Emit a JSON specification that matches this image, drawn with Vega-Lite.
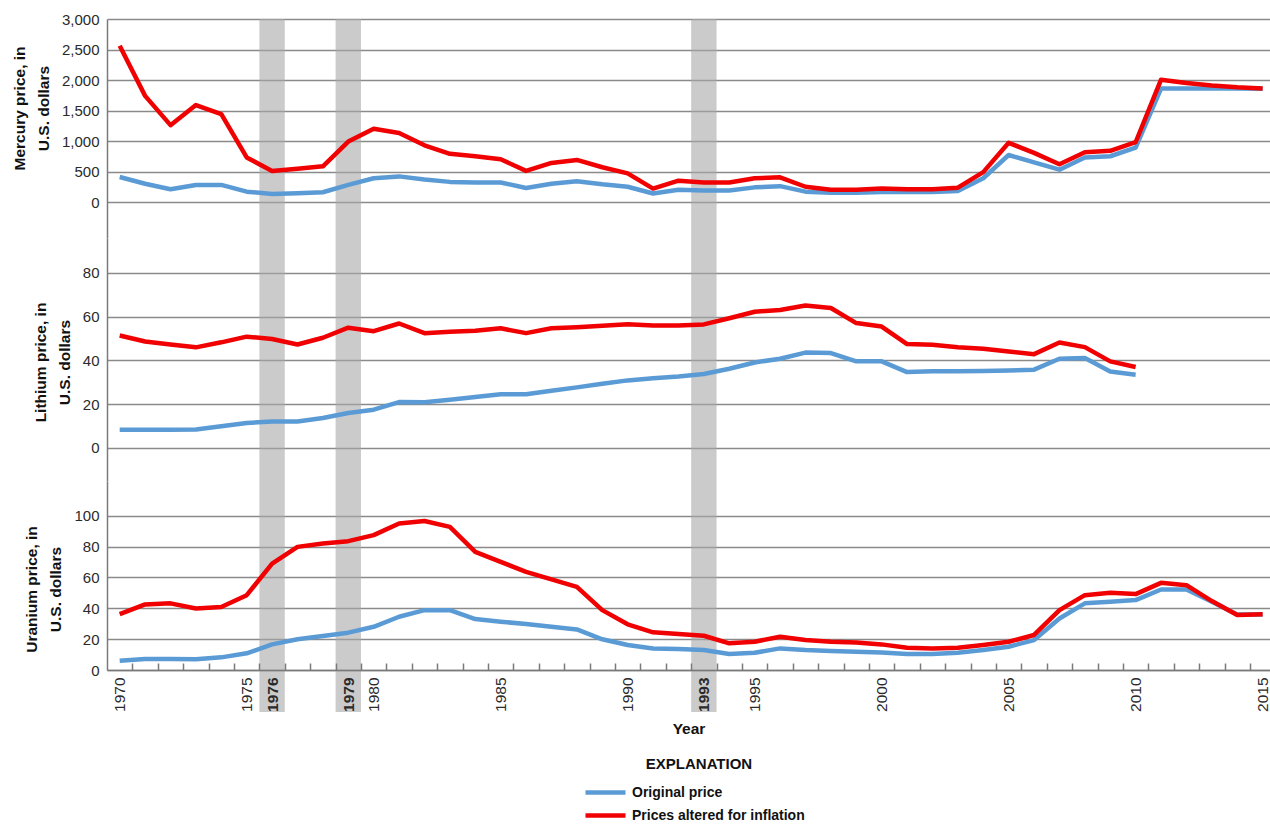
{
  "$schema": "https://vega.github.io/schema/vega-lite/v6.json",
  "padding": {"left": 12, "top": 12, "right": 0, "bottom": 0},
  "spacing": 0,
  "resolve": {"legend": {"color": "independent"}},
  "config": {
    "view": {"stroke": null},
    "font": "Liberation Sans, Arial, sans-serif",
    "axisY": {
      "ticks": false, "domain": true, "domainColor": "#7a7a7a", "domainWidth": 1.5,
      "grid": true, "gridColor": "#8a8a8a", "gridWidth": 1.5,
      "labelFontSize": 15, "labelPadding": 8, "labelColor": "#2a2a2a", "labelOverlap": false,
      "titleFontSize": 15.5, "titleFontWeight": "bold", "titleColor": "#111111",
      "titlePadding": 10, "titleLineHeight": 24
    }
  },
  "datasets": {
    "bands": [
      {"year": 1976, "start": 1975.5, "end": 1976.5},
      {"year": 1979, "start": 1978.5, "end": 1979.5},
      {"year": 1993, "start": 1992.5, "end": 1993.5}
    ],
    "mercury": [
      {"year": 1970, "Original price": 410, "Prices altered for inflation": 2560},
      {"year": 1971, "Original price": 300, "Prices altered for inflation": 1740},
      {"year": 1972, "Original price": 210, "Prices altered for inflation": 1260},
      {"year": 1973, "Original price": 280, "Prices altered for inflation": 1590},
      {"year": 1974, "Original price": 280, "Prices altered for inflation": 1440},
      {"year": 1975, "Original price": 170, "Prices altered for inflation": 730},
      {"year": 1976, "Original price": 130, "Prices altered for inflation": 510},
      {"year": 1977, "Original price": 145, "Prices altered for inflation": 545},
      {"year": 1978, "Original price": 160, "Prices altered for inflation": 585},
      {"year": 1979, "Original price": 280, "Prices altered for inflation": 990},
      {"year": 1980, "Original price": 390, "Prices altered for inflation": 1200},
      {"year": 1981, "Original price": 420, "Prices altered for inflation": 1130},
      {"year": 1982, "Original price": 370, "Prices altered for inflation": 930},
      {"year": 1983, "Original price": 330, "Prices altered for inflation": 790},
      {"year": 1984, "Original price": 320, "Prices altered for inflation": 750},
      {"year": 1985, "Original price": 320, "Prices altered for inflation": 700},
      {"year": 1986, "Original price": 230, "Prices altered for inflation": 510},
      {"year": 1987, "Original price": 300, "Prices altered for inflation": 640},
      {"year": 1988, "Original price": 340, "Prices altered for inflation": 690},
      {"year": 1989, "Original price": 290, "Prices altered for inflation": 570},
      {"year": 1990, "Original price": 250, "Prices altered for inflation": 470},
      {"year": 1991, "Original price": 140, "Prices altered for inflation": 220},
      {"year": 1992, "Original price": 200, "Prices altered for inflation": 350},
      {"year": 1993, "Original price": 190, "Prices altered for inflation": 320},
      {"year": 1994, "Original price": 190, "Prices altered for inflation": 320},
      {"year": 1995, "Original price": 240, "Prices altered for inflation": 390},
      {"year": 1996, "Original price": 260, "Prices altered for inflation": 405},
      {"year": 1997, "Original price": 170, "Prices altered for inflation": 250},
      {"year": 1998, "Original price": 150, "Prices altered for inflation": 200},
      {"year": 1999, "Original price": 150, "Prices altered for inflation": 200},
      {"year": 2000, "Original price": 165, "Prices altered for inflation": 220},
      {"year": 2001, "Original price": 165, "Prices altered for inflation": 210},
      {"year": 2002, "Original price": 165, "Prices altered for inflation": 210},
      {"year": 2003, "Original price": 180, "Prices altered for inflation": 235},
      {"year": 2004, "Original price": 390, "Prices altered for inflation": 490},
      {"year": 2005, "Original price": 770, "Prices altered for inflation": 970},
      {"year": 2006, "Original price": 650, "Prices altered for inflation": 805},
      {"year": 2007, "Original price": 530, "Prices altered for inflation": 620},
      {"year": 2008, "Original price": 730, "Prices altered for inflation": 815},
      {"year": 2009, "Original price": 750, "Prices altered for inflation": 840},
      {"year": 2010, "Original price": 890, "Prices altered for inflation": 980},
      {"year": 2011, "Original price": 1860, "Prices altered for inflation": 2005},
      {"year": 2012, "Original price": 1860, "Prices altered for inflation": 1950},
      {"year": 2013, "Original price": 1860, "Prices altered for inflation": 1910},
      {"year": 2014, "Original price": 1860, "Prices altered for inflation": 1880},
      {"year": 2015, "Original price": 1855, "Prices altered for inflation": 1860}
    ],
    "lithium": [
      {"year": 1970, "Original price": 8.2, "Prices altered for inflation": 51.3},
      {"year": 1971, "Original price": 8.2, "Prices altered for inflation": 48.6},
      {"year": 1972, "Original price": 8.2, "Prices altered for inflation": 47.2},
      {"year": 1973, "Original price": 8.3, "Prices altered for inflation": 45.9},
      {"year": 1974, "Original price": 9.8, "Prices altered for inflation": 48.2},
      {"year": 1975, "Original price": 11.3, "Prices altered for inflation": 50.8},
      {"year": 1976, "Original price": 12, "Prices altered for inflation": 49.7},
      {"year": 1977, "Original price": 12, "Prices altered for inflation": 47.2},
      {"year": 1978, "Original price": 13.6, "Prices altered for inflation": 50.3},
      {"year": 1979, "Original price": 15.9, "Prices altered for inflation": 54.9},
      {"year": 1980, "Original price": 17.4, "Prices altered for inflation": 53.3},
      {"year": 1981, "Original price": 20.9, "Prices altered for inflation": 56.8},
      {"year": 1982, "Original price": 20.8, "Prices altered for inflation": 52.4},
      {"year": 1983, "Original price": 21.9, "Prices altered for inflation": 53},
      {"year": 1984, "Original price": 23.2, "Prices altered for inflation": 53.5},
      {"year": 1985, "Original price": 24.5, "Prices altered for inflation": 54.6},
      {"year": 1986, "Original price": 24.5, "Prices altered for inflation": 52.4},
      {"year": 1987, "Original price": 26.1, "Prices altered for inflation": 54.6},
      {"year": 1988, "Original price": 27.6, "Prices altered for inflation": 55.1},
      {"year": 1989, "Original price": 29.3, "Prices altered for inflation": 55.8},
      {"year": 1990, "Original price": 30.8, "Prices altered for inflation": 56.5},
      {"year": 1991, "Original price": 31.8, "Prices altered for inflation": 55.9},
      {"year": 1992, "Original price": 32.6, "Prices altered for inflation": 55.9},
      {"year": 1993, "Original price": 33.7, "Prices altered for inflation": 56.4},
      {"year": 1994, "Original price": 36.1, "Prices altered for inflation": 59.2},
      {"year": 1995, "Original price": 39, "Prices altered for inflation": 62.2},
      {"year": 1996, "Original price": 40.7, "Prices altered for inflation": 63},
      {"year": 1997, "Original price": 43.5, "Prices altered for inflation": 65},
      {"year": 1998, "Original price": 43.3, "Prices altered for inflation": 63.9},
      {"year": 1999, "Original price": 39.5, "Prices altered for inflation": 57},
      {"year": 2000, "Original price": 39.5, "Prices altered for inflation": 55.4},
      {"year": 2001, "Original price": 34.6, "Prices altered for inflation": 47.4},
      {"year": 2002, "Original price": 35, "Prices altered for inflation": 47.1},
      {"year": 2003, "Original price": 35, "Prices altered for inflation": 45.9},
      {"year": 2004, "Original price": 35.1, "Prices altered for inflation": 45.3},
      {"year": 2005, "Original price": 35.3, "Prices altered for inflation": 44},
      {"year": 2006, "Original price": 35.7, "Prices altered for inflation": 42.8},
      {"year": 2007, "Original price": 40.7, "Prices altered for inflation": 48.1},
      {"year": 2008, "Original price": 41, "Prices altered for inflation": 46},
      {"year": 2009, "Original price": 34.9, "Prices altered for inflation": 39.5},
      {"year": 2010, "Original price": 33.4, "Prices altered for inflation": 36.9}
    ],
    "uranium": [
      {"year": 1970, "Original price": 6, "Prices altered for inflation": 36.2},
      {"year": 1971, "Original price": 7.1, "Prices altered for inflation": 42.5},
      {"year": 1972, "Original price": 7.1, "Prices altered for inflation": 43.2},
      {"year": 1973, "Original price": 7, "Prices altered for inflation": 39.9},
      {"year": 1974, "Original price": 8.2, "Prices altered for inflation": 40.8},
      {"year": 1975, "Original price": 10.8, "Prices altered for inflation": 48.5},
      {"year": 1976, "Original price": 16.6, "Prices altered for inflation": 69},
      {"year": 1977, "Original price": 19.9, "Prices altered for inflation": 79.8},
      {"year": 1978, "Original price": 22, "Prices altered for inflation": 82},
      {"year": 1979, "Original price": 24.2, "Prices altered for inflation": 83.5},
      {"year": 1980, "Original price": 28, "Prices altered for inflation": 87.4},
      {"year": 1981, "Original price": 34.5, "Prices altered for inflation": 95},
      {"year": 1982, "Original price": 38.8, "Prices altered for inflation": 96.6},
      {"year": 1983, "Original price": 38.8, "Prices altered for inflation": 92.8},
      {"year": 1984, "Original price": 33, "Prices altered for inflation": 76.6},
      {"year": 1985, "Original price": 31.3, "Prices altered for inflation": 70.1},
      {"year": 1986, "Original price": 29.8, "Prices altered for inflation": 63.6},
      {"year": 1987, "Original price": 28, "Prices altered for inflation": 58.7},
      {"year": 1988, "Original price": 26.3, "Prices altered for inflation": 53.9},
      {"year": 1989, "Original price": 19.9, "Prices altered for inflation": 38.8},
      {"year": 1990, "Original price": 16.2, "Prices altered for inflation": 29.6},
      {"year": 1991, "Original price": 14, "Prices altered for inflation": 24.4},
      {"year": 1992, "Original price": 13.6, "Prices altered for inflation": 23.3},
      {"year": 1993, "Original price": 12.9, "Prices altered for inflation": 22.2},
      {"year": 1994, "Original price": 10.4, "Prices altered for inflation": 17.3},
      {"year": 1995, "Original price": 11.2, "Prices altered for inflation": 18.3},
      {"year": 1996, "Original price": 14, "Prices altered for inflation": 21.6},
      {"year": 1997, "Original price": 12.9, "Prices altered for inflation": 19.4},
      {"year": 1998, "Original price": 12.3, "Prices altered for inflation": 18.3},
      {"year": 1999, "Original price": 11.9, "Prices altered for inflation": 17.9},
      {"year": 2000, "Original price": 11.4, "Prices altered for inflation": 16.6},
      {"year": 2001, "Original price": 10.4, "Prices altered for inflation": 14.4},
      {"year": 2002, "Original price": 10.4, "Prices altered for inflation": 14},
      {"year": 2003, "Original price": 11.2, "Prices altered for inflation": 14.4},
      {"year": 2004, "Original price": 12.9, "Prices altered for inflation": 16.2},
      {"year": 2005, "Original price": 15.1, "Prices altered for inflation": 18.3},
      {"year": 2006, "Original price": 19.4, "Prices altered for inflation": 22.7},
      {"year": 2007, "Original price": 33.4, "Prices altered for inflation": 38.8},
      {"year": 2008, "Original price": 43.2, "Prices altered for inflation": 48.5},
      {"year": 2009, "Original price": 44.2, "Prices altered for inflation": 50},
      {"year": 2010, "Original price": 45.3, "Prices altered for inflation": 49.2},
      {"year": 2011, "Original price": 52.2, "Prices altered for inflation": 56.5},
      {"year": 2012, "Original price": 52.2, "Prices altered for inflation": 55},
      {"year": 2013, "Original price": 44.2, "Prices altered for inflation": 44.7},
      {"year": 2014, "Original price": 36, "Prices altered for inflation": 35.6},
      {"year": 2015, "Original price": 36, "Prices altered for inflation": 36.2}
    ]
  },
  "vconcat": [
    {
      "width": 1163,
      "height": 219,
      "layer": [
        {
          "data": {"name": "bands"},
          "mark": {"type": "rect", "fill": "#a8a8a8", "opacity": 0.6},
          "encoding": {
            "x": {"field": "start", "type": "quantitative", "scale": {"domain": [1969.5, 2015.29], "nice": false, "zero": false}, "axis": null},
            "x2": {"field": "end"}
          }
        },
        {
          "data": {"name": "mercury"},
          "transform": [{"fold": ["Original price", "Prices altered for inflation"], "as": ["series", "price"]}],
          "mark": {"type": "line", "strokeWidth": 4.5, "strokeJoin": "round"},
          "encoding": {
            "x": {"field": "year", "type": "quantitative", "scale": {"domain": [1969.5, 2015.29], "nice": false, "zero": false}, "axis": null},
            "y": {"field": "price", "type": "quantitative", "scale": {"domain": [-590, 3000], "nice": false, "zero": false},
                  "axis": {"values": [0, 500, 1000, 1500, 2000, 2500, 3000], "format": ",d", "labelOverlap": false, "title": ["Mercury price, in", "U.S. dollars"], "titleY": 89}},
            "color": {"field": "series", "type": "nominal", "scale": {"domain": ["Original price", "Prices altered for inflation"], "range": ["#5b9bd5", "#f00000"]}, "legend": null}
          }
        }
      ]
    },
    {
      "width": 1163,
      "height": 243,
      "layer": [
        {
          "data": {"name": "bands"},
          "mark": {"type": "rect", "fill": "#a8a8a8", "opacity": 0.6},
          "encoding": {
            "x": {"field": "start", "type": "quantitative", "scale": {"domain": [1969.5, 2015.29], "nice": false, "zero": false}, "axis": null},
            "x2": {"field": "end"}
          }
        },
        {
          "data": {"name": "lithium"},
          "transform": [{"fold": ["Original price", "Prices altered for inflation"], "as": ["series", "price"]}],
          "mark": {"type": "line", "strokeWidth": 4.5, "strokeJoin": "round"},
          "encoding": {
            "x": {"field": "year", "type": "quantitative", "scale": {"domain": [1969.5, 2015.29], "nice": false, "zero": false}, "axis": null},
            "y": {"field": "price", "type": "quantitative", "scale": {"domain": [-15.2, 95.9], "nice": false, "zero": false},
                  "axis": {"values": [0, 20, 40, 60, 80], "labelOverlap": false, "title": ["Lithium price, in", "U.S. dollars"], "titleY": 124}},
            "color": {"field": "series", "type": "nominal", "scale": {"domain": ["Original price", "Prices altered for inflation"], "range": ["#5b9bd5", "#f00000"]}, "legend": null}
          }
        }
      ]
    },
    {
      "width": 1163,
      "height": 189,
      "resolve": {"axis": {"x": "independent"}},
      "layer": [
        {
          "data": {"name": "bands"},
          "mark": {"type": "rect", "fill": "#a8a8a8", "opacity": 0.6},
          "encoding": {
            "x": {"field": "start", "type": "quantitative", "scale": {"domain": [1969.5, 2015.29], "nice": false, "zero": false},
                  "axis": {
                    "orient": "bottom",
                    "title": null,
                    "values": [1970.5, 1971.5, 1972.5, 1973.5, 1974.5, 1975.5, 1976.5, 1977.5, 1978.5, 1979.5,
                               1980.5, 1981.5, 1982.5, 1983.5, 1984.5, 1985.5, 1986.5, 1987.5, 1988.5, 1989.5,
                               1990.5, 1991.5, 1992.5, 1993.5, 1994.5, 1995.5, 1996.5, 1997.5, 1998.5, 1999.5,
                               2000.5, 2001.5, 2002.5, 2003.5, 2004.5, 2005.5, 2006.5, 2007.5, 2008.5, 2009.5,
                               2010.5, 2011.5, 2012.5, 2013.5, 2014.5],
                    "labels": false,
                    "ticks": true,
                    "tickSize": -7,
                    "tickWidth": 1.5,
                    "tickColor": "#7a7a7a",
                    "domain": true,
                    "domainColor": "#7a7a7a",
                    "domainWidth": 1.5,
                    "grid": false,
                    "zindex": 1
                  }},
            "x2": {"field": "end"},
            "y": {"datum": 122.5, "type": "quantitative", "scale": {"domain": [0, 122.5], "nice": false, "zero": false},
                  "axis": {"values": [0, 20, 40, 60, 80, 100], "labelOverlap": false, "title": ["Uranium price, in", "U.S. dollars"], "titleY": 108}},
            "y2": {"datum": -27.2}
          }
        },
        {
          "data": {"name": "uranium"},
          "transform": [{"fold": ["Original price", "Prices altered for inflation"], "as": ["series", "price"]}],
          "mark": {"type": "line", "strokeWidth": 4.5, "strokeJoin": "round"},
          "encoding": {
            "x": {"field": "year", "type": "quantitative", "scale": {"domain": [1969.5, 2015.29], "nice": false, "zero": false},
                  "axis": {
                    "orient": "bottom",
                    "title": "Year",
                    "values": [1970, 1975, 1976, 1979, 1980, 1985, 1990, 1993, 1995, 2000, 2005, 2010, 2015],
                    "format": "d",
                    "labelAngle": 270,
                    "labelFontSize": 15.5,
                    "labelColor": "#2a2a2a",
                    "labelFontWeight": {"condition": {"test": "datum.value == 1976 || datum.value == 1979 || datum.value == 1993", "value": "bold"}, "value": "normal"},
                    "labelOverlap": false,
                    "labelFlush": false,
                    "labelBound": false,
                    "labelPadding": 7,
                    "ticks": false,
                    "domain": false,
                    "grid": false,
                    "titleFontSize": 15.5,
                    "titleFontWeight": "bold",
                    "titleColor": "#111111",
                    "titlePadding": 10,
                    "zindex": 1
                  }},
            "y": {"field": "price", "type": "quantitative", "scale": {"domain": [0, 122.5], "nice": false, "zero": false},
                  "axis": {"values": [0, 20, 40, 60, 80, 100], "labelOverlap": false, "title": ["Uranium price, in", "U.S. dollars"], "titleY": 108}},
            "color": {"field": "series", "type": "nominal", "scale": {"domain": ["Original price", "Prices altered for inflation"], "range": ["#5b9bd5", "#f00000"]},
                      "legend": {
                        "title": "EXPLANATION", "orient": "none", "legendX": 486, "legendY": 276,
                        "direction": "vertical", "titleAnchor": "middle",
                        "titleFontSize": 15, "titleFontWeight": "bold", "titleColor": "#111111",
                        "titlePadding": 8,
                        "labelFontSize": 14, "labelFontWeight": "bold", "labelColor": "#111111", "labelOffset": 14, "labelLimit": 400,
                        "symbolType": "M-2,0H2", "symbolSize": 400, "symbolStrokeWidth": 4.5, "rowPadding": 1
                      }}
          }
        }
      ]
    }
  ]
}
